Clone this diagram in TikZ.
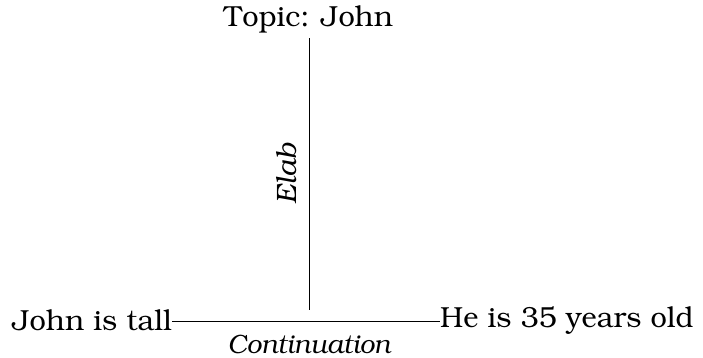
\documentclass[tikz,border=0pt]{standalone}
\usepackage[T1]{fontenc}
\usepackage{bookman}
\begin{document}
\begin{tikzpicture}[x=1pt,y=-1pt,
  txt/.style={inner sep=0pt, font=\fontsize{29}{34}\selectfont},
  lbl/.style={inner sep=0pt, font=\fontsize{28}{32}\selectfont\itshape},
  contlbl/.style={inner sep=0pt, anchor=base, font=\fontsize{26.5}{30}\selectfont\itshape},
  conn/.style={draw, line width=0.8pt}]
\useasboundingbox (0,0) rectangle (703,357);
\node[txt] (topic) at (308.5,20) {Topic: John};
\node[txt, anchor=east] (a) at (172,321) {John is tall};
\node[txt, anchor=west] (b) at (440,321) {He is 35 years old};
\coordinate (top) at (309,38);
\coordinate (mid) at (309,310);
\draw[conn] (a.east) -- (b.west);
\draw[conn] (top) -- (mid);
\node[lbl, rotate=90] (elab) at (286,174) {Elab};
\node[contlbl] (cont) at (309,353) {Continuation};
\end{tikzpicture}
\end{document}
